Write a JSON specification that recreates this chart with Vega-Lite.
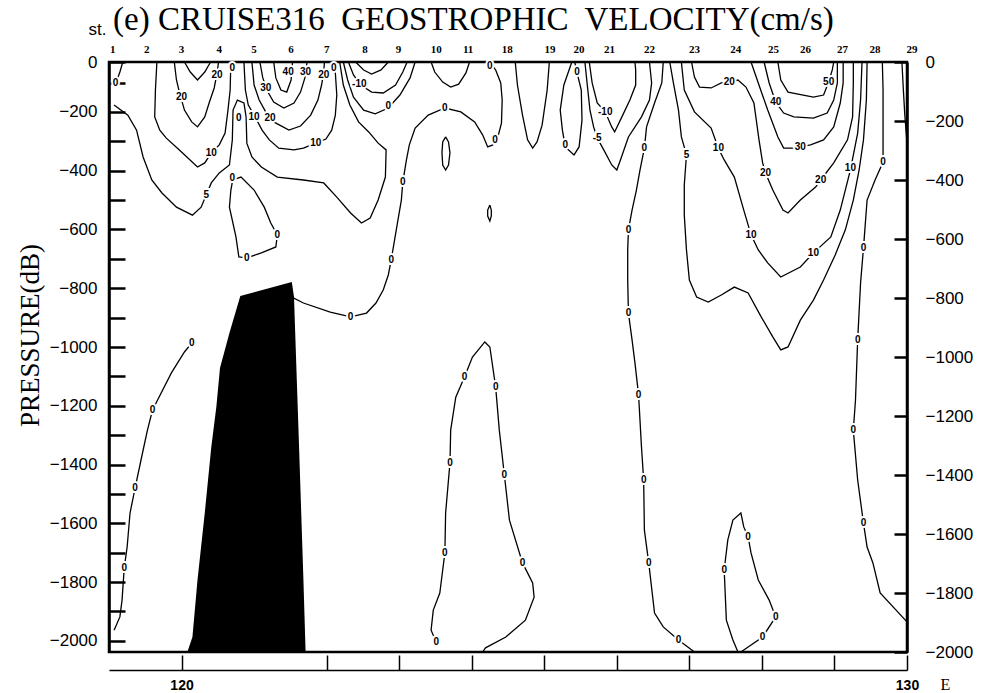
{
"$schema":"https://vega.github.io/schema/vega-lite/v6.json",
"width":798,"height":590,
"autosize":"none",
"padding":{"left":109,"top":62,"right":74,"bottom":41},
"background":"white",
"config":{"view":{"stroke":"black","strokeWidth":2.5},"axis":{"domainColor":"black","tickColor":"black","labelColor":"black","titleColor":"black","grid":false}},
"title":{"text":"(e) CRUISE316\u00a0 GEOSTROPHIC\u00a0 VELOCITY(cm/s)","anchor":"start","frame":"group","font":"Liberation Serif","fontSize":33,"fontWeight":"normal","color":"black","baseline":"alphabetic","offset":-42,"dx":4},
"datasets":{
"contours":[
{"c":"a","i":0,"lon":119.19,"p":0},{"c":"a","i":1,"lon":119.15,"p":-34},{"c":"a","i":2,"lon":119.11,"p":-61},{"c":"a","i":3,"lon":119.07,"p":-78},
{"c":"b","i":0,"lon":119.07,"p":-146},{"c":"b","i":1,"lon":119.26,"p":-180},{"c":"b","i":2,"lon":119.38,"p":-231},{"c":"b","i":3,"lon":119.47,"p":-322},{"c":"b","i":4,"lon":119.59,"p":-400},{"c":"b","i":5,"lon":119.73,"p":-444},{"c":"b","i":6,"lon":119.93,"p":-492},{"c":"b","i":7,"lon":120.15,"p":-519},{"c":"b","i":8,"lon":120.27,"p":-492},{"c":"b","i":9,"lon":120.34,"p":-451},{"c":"b","i":10,"lon":120.41,"p":-410},{"c":"b","i":11,"lon":120.52,"p":-376},{"c":"b","i":12,"lon":120.66,"p":-349},{"c":"b","i":13,"lon":120.70,"p":-264},{"c":"b","i":14,"lon":120.71,"p":-163},{"c":"b","i":15,"lon":120.77,"p":-129},{"c":"b","i":16,"lon":120.86,"p":-139},{"c":"b","i":17,"lon":120.89,"p":-186},{"c":"b","i":18,"lon":120.90,"p":-275},{"c":"b","i":19,"lon":120.97,"p":-322},{"c":"b","i":20,"lon":121.10,"p":-356},{"c":"b","i":21,"lon":121.32,"p":-390},{"c":"b","i":22,"lon":121.68,"p":-400},{"c":"b","i":23,"lon":121.96,"p":-410},{"c":"b","i":24,"lon":122.14,"p":-458},{"c":"b","i":25,"lon":122.33,"p":-512},{"c":"b","i":26,"lon":122.48,"p":-546},{"c":"b","i":27,"lon":122.60,"p":-529},{"c":"b","i":28,"lon":122.71,"p":-468},{"c":"b","i":29,"lon":122.81,"p":-390},{"c":"b","i":30,"lon":122.82,"p":-298},{"c":"b","i":31,"lon":122.71,"p":-275},{"c":"b","i":32,"lon":122.58,"p":-237},{"c":"b","i":33,"lon":122.44,"p":-203},{"c":"b","i":34,"lon":122.32,"p":-146},{"c":"b","i":35,"lon":122.23,"p":-78},{"c":"b","i":36,"lon":122.18,"p":0},
{"c":"d","i":0,"lon":119.66,"p":0},{"c":"d","i":1,"lon":119.64,"p":-95},{"c":"d","i":2,"lon":119.63,"p":-186},{"c":"d","i":3,"lon":119.70,"p":-231},{"c":"d","i":4,"lon":119.79,"p":-258},{"c":"d","i":5,"lon":119.97,"p":-298},{"c":"d","i":6,"lon":120.22,"p":-356},{"c":"d","i":7,"lon":120.32,"p":-342},{"c":"d","i":8,"lon":120.41,"p":-308},{"c":"d","i":9,"lon":120.52,"p":-281},{"c":"d","i":10,"lon":120.60,"p":-241},{"c":"d","i":11,"lon":120.64,"p":-163},{"c":"d","i":12,"lon":120.67,"p":-95},{"c":"d","i":13,"lon":120.68,"p":0},
{"c":"e","i":0,"lon":119.90,"p":0},{"c":"e","i":1,"lon":119.93,"p":-61},{"c":"e","i":2,"lon":119.97,"p":-102},{"c":"e","i":3,"lon":120.04,"p":-163},{"c":"e","i":4,"lon":120.14,"p":-203},{"c":"e","i":5,"lon":120.22,"p":-220},{"c":"e","i":6,"lon":120.32,"p":-186},{"c":"e","i":7,"lon":120.38,"p":-139},{"c":"e","i":8,"lon":120.45,"p":-88},{"c":"e","i":9,"lon":120.49,"p":-37},{"c":"e","i":10,"lon":120.51,"p":0},
{"c":"f","i":0,"lon":120.04,"p":0},{"c":"f","i":1,"lon":120.12,"p":-34},{"c":"f","i":2,"lon":120.22,"p":-61},{"c":"f","i":3,"lon":120.32,"p":-34},{"c":"f","i":4,"lon":120.40,"p":0},
{"c":"g","i":0,"lon":120.86,"p":0},{"c":"g","i":1,"lon":120.88,"p":-95},{"c":"g","i":2,"lon":120.92,"p":-146},{"c":"g","i":3,"lon":121.00,"p":-180},{"c":"g","i":4,"lon":121.11,"p":-231},{"c":"g","i":5,"lon":121.21,"p":-264},{"c":"g","i":6,"lon":121.34,"p":-292},{"c":"g","i":7,"lon":121.55,"p":-298},{"c":"g","i":8,"lon":121.68,"p":-292},{"c":"g","i":9,"lon":121.85,"p":-275},{"c":"g","i":10,"lon":121.99,"p":-261},{"c":"g","i":11,"lon":122.07,"p":-231},{"c":"g","i":12,"lon":122.12,"p":-180},{"c":"g","i":13,"lon":122.14,"p":-112},{"c":"g","i":14,"lon":122.11,"p":0},
{"c":"h","i":0,"lon":120.97,"p":0},{"c":"h","i":1,"lon":121.00,"p":-78},{"c":"h","i":2,"lon":121.07,"p":-129},{"c":"h","i":3,"lon":121.16,"p":-169},{"c":"h","i":4,"lon":121.27,"p":-203},{"c":"h","i":5,"lon":121.48,"p":-231},{"c":"h","i":6,"lon":121.64,"p":-217},{"c":"h","i":7,"lon":121.78,"p":-180},{"c":"h","i":8,"lon":121.88,"p":-129},{"c":"h","i":9,"lon":121.93,"p":-78},{"c":"h","i":10,"lon":121.96,"p":-34},{"c":"h","i":11,"lon":121.97,"p":0},
{"c":"j","i":0,"lon":121.08,"p":0},{"c":"j","i":1,"lon":121.12,"p":-54},{"c":"j","i":2,"lon":121.19,"p":-102},{"c":"j","i":3,"lon":121.27,"p":-136},{"c":"j","i":4,"lon":121.41,"p":-156},{"c":"j","i":5,"lon":121.55,"p":-139},{"c":"j","i":6,"lon":121.64,"p":-102},{"c":"j","i":7,"lon":121.70,"p":-54},{"c":"j","i":8,"lon":121.73,"p":0},
{"c":"k","i":0,"lon":121.27,"p":0},{"c":"k","i":1,"lon":121.30,"p":-54},{"c":"k","i":2,"lon":121.37,"p":-95},{"c":"k","i":3,"lon":121.45,"p":-102},{"c":"k","i":4,"lon":121.51,"p":-61},{"c":"k","i":5,"lon":121.53,"p":0},
{"c":"l","i":0,"lon":122.40,"p":0},{"c":"l","i":1,"lon":122.51,"p":-27},{"c":"l","i":2,"lon":122.62,"p":-41},{"c":"l","i":3,"lon":122.75,"p":-27},{"c":"l","i":4,"lon":122.85,"p":0},
{"c":"m","i":0,"lon":122.30,"p":0},{"c":"m","i":1,"lon":122.37,"p":-44},{"c":"m","i":2,"lon":122.47,"p":-78},{"c":"m","i":3,"lon":122.62,"p":-102},{"c":"m","i":4,"lon":122.78,"p":-105},{"c":"m","i":5,"lon":122.95,"p":-78},{"c":"m","i":6,"lon":123.05,"p":-34},{"c":"m","i":7,"lon":123.11,"p":0},
{"c":"n","i":0,"lon":122.23,"p":0},{"c":"n","i":1,"lon":122.29,"p":-61},{"c":"n","i":2,"lon":122.37,"p":-119},{"c":"n","i":3,"lon":122.51,"p":-163},{"c":"n","i":4,"lon":122.67,"p":-176},{"c":"n","i":5,"lon":122.85,"p":-156},{"c":"n","i":6,"lon":123.01,"p":-112},{"c":"n","i":7,"lon":123.15,"p":-54},{"c":"n","i":8,"lon":123.22,"p":0},
{"c":"o","i":0,"lon":121.52,"p":-797},{"c":"o","i":1,"lon":121.68,"p":-817},{"c":"o","i":2,"lon":122.05,"p":-848},{"c":"o","i":3,"lon":122.33,"p":-864},{"c":"o","i":4,"lon":122.55,"p":-851},{"c":"o","i":5,"lon":122.68,"p":-817},{"c":"o","i":6,"lon":122.78,"p":-773},{"c":"o","i":7,"lon":122.85,"p":-722},{"c":"o","i":8,"lon":122.89,"p":-671},{"c":"o","i":9,"lon":122.96,"p":-569},{"c":"o","i":10,"lon":123.03,"p":-468},{"c":"o","i":11,"lon":123.05,"p":-407},{"c":"o","i":12,"lon":123.10,"p":-332},{"c":"o","i":13,"lon":123.14,"p":-281},{"c":"o","i":14,"lon":123.22,"p":-224},{"c":"o","i":15,"lon":123.40,"p":-180},{"c":"o","i":16,"lon":123.63,"p":-156},{"c":"o","i":17,"lon":123.85,"p":-169},{"c":"o","i":18,"lon":124.04,"p":-203},{"c":"o","i":19,"lon":124.15,"p":-247},{"c":"o","i":20,"lon":124.22,"p":-288},{"c":"o","i":21,"lon":124.29,"p":-281},{"c":"o","i":22,"lon":124.36,"p":-254},{"c":"o","i":23,"lon":124.41,"p":-207},{"c":"o","i":24,"lon":124.42,"p":-129},{"c":"o","i":25,"lon":124.40,"p":-71},{"c":"o","i":26,"lon":124.33,"p":-27},{"c":"o","i":27,"lon":124.25,"p":0},
{"c":"q","i":0,"lon":123.44,"p":0},{"c":"q","i":1,"lon":123.49,"p":-34},{"c":"q","i":2,"lon":123.60,"p":-68},{"c":"q","i":3,"lon":123.71,"p":-85},{"c":"q","i":4,"lon":123.82,"p":-75},{"c":"q","i":5,"lon":123.92,"p":-37},{"c":"q","i":6,"lon":123.97,"p":0},
{"c":"r","i":0,"lon":123.64,"p":-254},{"c":"r","i":1,"lon":123.68,"p":-271},{"c":"r","i":2,"lon":123.70,"p":-308},{"c":"r","i":3,"lon":123.68,"p":-349},{"c":"r","i":4,"lon":123.64,"p":-366},{"c":"r","i":5,"lon":123.60,"p":-349},{"c":"r","i":6,"lon":123.59,"p":-308},{"c":"r","i":7,"lon":123.60,"p":-271},{"c":"r","i":8,"lon":123.64,"p":-254},
{"c":"s","i":0,"lon":124.25,"p":-485},{"c":"s","i":1,"lon":124.27,"p":-502},{"c":"s","i":2,"lon":124.27,"p":-522},{"c":"s","i":3,"lon":124.25,"p":-539},{"c":"s","i":4,"lon":124.22,"p":-522},{"c":"s","i":5,"lon":124.22,"p":-502},{"c":"s","i":6,"lon":124.25,"p":-485},
{"c":"t","i":0,"lon":124.60,"p":0},{"c":"t","i":1,"lon":124.63,"p":-78},{"c":"t","i":2,"lon":124.70,"p":-180},{"c":"t","i":3,"lon":124.77,"p":-264},{"c":"t","i":4,"lon":124.84,"p":-292},{"c":"t","i":5,"lon":124.90,"p":-271},{"c":"t","i":6,"lon":124.97,"p":-214},{"c":"t","i":7,"lon":125.04,"p":-95},{"c":"t","i":8,"lon":125.07,"p":0},
{"c":"u","i":0,"lon":125.38,"p":0},{"c":"u","i":1,"lon":125.27,"p":-78},{"c":"u","i":2,"lon":125.22,"p":-163},{"c":"u","i":3,"lon":125.25,"p":-231},{"c":"u","i":4,"lon":125.29,"p":-288},{"c":"u","i":5,"lon":125.41,"p":-315},{"c":"u","i":6,"lon":125.48,"p":-288},{"c":"u","i":7,"lon":125.52,"p":-197},{"c":"u","i":8,"lon":125.51,"p":-95},{"c":"u","i":9,"lon":125.45,"p":-34},{"c":"u","i":10,"lon":125.42,"p":0},
{"c":"v","i":0,"lon":125.62,"p":0},{"c":"v","i":1,"lon":125.66,"p":-71},{"c":"v","i":2,"lon":125.73,"p":-139},{"c":"v","i":3,"lon":125.84,"p":-169},{"c":"v","i":4,"lon":125.93,"p":-220},{"c":"v","i":5,"lon":125.97,"p":-237},{"c":"v","i":6,"lon":126.07,"p":-186},{"c":"v","i":7,"lon":126.18,"p":-129},{"c":"v","i":8,"lon":126.26,"p":-78},{"c":"v","i":9,"lon":126.26,"p":-27},{"c":"v","i":10,"lon":126.25,"p":0},
{"c":"w","i":0,"lon":125.56,"p":0},{"c":"w","i":1,"lon":125.59,"p":-71},{"c":"w","i":2,"lon":125.63,"p":-163},{"c":"w","i":3,"lon":125.68,"p":-220},{"c":"w","i":4,"lon":125.73,"p":-258},{"c":"w","i":5,"lon":125.82,"p":-298},{"c":"w","i":6,"lon":125.93,"p":-349},{"c":"w","i":7,"lon":126.00,"p":-366},{"c":"w","i":8,"lon":126.05,"p":-332},{"c":"w","i":9,"lon":126.16,"p":-254},{"c":"w","i":10,"lon":126.34,"p":-186},{"c":"w","i":11,"lon":126.45,"p":-129},{"c":"w","i":12,"lon":126.48,"p":-71},{"c":"w","i":13,"lon":126.45,"p":0},
{"c":"x","i":0,"lon":126.64,"p":0},{"c":"x","i":1,"lon":126.62,"p":-71},{"c":"x","i":2,"lon":126.52,"p":-139},{"c":"x","i":3,"lon":126.41,"p":-220},{"c":"x","i":4,"lon":126.38,"p":-292},{"c":"x","i":5,"lon":126.32,"p":-366},{"c":"x","i":6,"lon":126.27,"p":-434},{"c":"x","i":7,"lon":126.21,"p":-502},{"c":"x","i":8,"lon":126.16,"p":-569},{"c":"x","i":9,"lon":126.15,"p":-637},{"c":"x","i":10,"lon":126.15,"p":-739},{"c":"x","i":11,"lon":126.16,"p":-851},{"c":"x","i":12,"lon":126.21,"p":-942},{"c":"x","i":13,"lon":126.25,"p":-1020},{"c":"x","i":14,"lon":126.30,"p":-1129},{"c":"x","i":15,"lon":126.34,"p":-1305},{"c":"x","i":16,"lon":126.37,"p":-1417},{"c":"x","i":17,"lon":126.38,"p":-1587},{"c":"x","i":18,"lon":126.44,"p":-1698},{"c":"x","i":19,"lon":126.52,"p":-1868},{"c":"x","i":20,"lon":126.64,"p":-1915},{"c":"x","i":21,"lon":126.85,"p":-1959},{"c":"x","i":22,"lon":127.07,"p":-2000},
{"c":"y","i":0,"lon":126.73,"p":0},{"c":"y","i":1,"lon":126.78,"p":-71},{"c":"y","i":2,"lon":126.85,"p":-163},{"c":"y","i":3,"lon":126.89,"p":-254},{"c":"y","i":4,"lon":126.96,"p":-315},{"c":"y","i":5,"lon":126.93,"p":-417},{"c":"y","i":6,"lon":126.93,"p":-519},{"c":"y","i":7,"lon":126.96,"p":-637},{"c":"y","i":8,"lon":127.00,"p":-739},{"c":"y","i":9,"lon":127.10,"p":-797},{"c":"y","i":10,"lon":127.26,"p":-814},{"c":"y","i":11,"lon":127.44,"p":-790},{"c":"y","i":12,"lon":127.62,"p":-763},{"c":"y","i":13,"lon":127.81,"p":-783},{"c":"y","i":14,"lon":127.99,"p":-864},{"c":"y","i":15,"lon":128.15,"p":-932},{"c":"y","i":16,"lon":128.26,"p":-976},{"c":"y","i":17,"lon":128.36,"p":-966},{"c":"y","i":18,"lon":128.53,"p":-875},{"c":"y","i":19,"lon":128.71,"p":-807},{"c":"y","i":20,"lon":128.85,"p":-739},{"c":"y","i":21,"lon":129.01,"p":-654},{"c":"y","i":22,"lon":129.15,"p":-569},{"c":"y","i":23,"lon":129.26,"p":-468},{"c":"y","i":24,"lon":129.34,"p":-366},{"c":"y","i":25,"lon":129.40,"p":-264},{"c":"y","i":26,"lon":129.44,"p":-129},{"c":"y","i":27,"lon":129.45,"p":0},
{"c":"z","i":0,"lon":126.89,"p":0},{"c":"z","i":1,"lon":126.93,"p":-95},{"c":"z","i":2,"lon":127.07,"p":-169},{"c":"z","i":3,"lon":127.30,"p":-224},{"c":"z","i":4,"lon":127.40,"p":-292},{"c":"z","i":5,"lon":127.48,"p":-332},{"c":"z","i":6,"lon":127.62,"p":-390},{"c":"z","i":7,"lon":127.75,"p":-502},{"c":"z","i":8,"lon":127.85,"p":-586},{"c":"z","i":9,"lon":127.95,"p":-637},{"c":"z","i":10,"lon":128.08,"p":-681},{"c":"z","i":11,"lon":128.26,"p":-729},{"c":"z","i":12,"lon":128.53,"p":-695},{"c":"z","i":13,"lon":128.71,"p":-647},{"c":"z","i":14,"lon":128.95,"p":-593},{"c":"z","i":15,"lon":129.08,"p":-502},{"c":"z","i":16,"lon":129.22,"p":-366},{"c":"z","i":17,"lon":129.32,"p":-241},{"c":"z","i":18,"lon":129.36,"p":-129},{"c":"z","i":19,"lon":129.38,"p":0},
{"c":"A","i":0,"lon":127.03,"p":0},{"c":"A","i":1,"lon":127.07,"p":-51},{"c":"A","i":2,"lon":127.14,"p":-85},{"c":"A","i":3,"lon":127.30,"p":-88},{"c":"A","i":4,"lon":127.44,"p":-71},{"c":"A","i":5,"lon":127.55,"p":-68},{"c":"A","i":6,"lon":127.67,"p":-61},{"c":"A","i":7,"lon":127.78,"p":-85},{"c":"A","i":8,"lon":127.89,"p":-139},{"c":"A","i":9,"lon":127.96,"p":-264},{"c":"A","i":10,"lon":128.01,"p":-342},{"c":"A","i":11,"lon":128.05,"p":-376},{"c":"A","i":12,"lon":128.15,"p":-434},{"c":"A","i":13,"lon":128.29,"p":-502},{"c":"A","i":14,"lon":128.36,"p":-512},{"c":"A","i":15,"lon":128.53,"p":-468},{"c":"A","i":16,"lon":128.74,"p":-424},{"c":"A","i":17,"lon":128.81,"p":-400},{"c":"A","i":18,"lon":128.99,"p":-342},{"c":"A","i":19,"lon":129.18,"p":-264},{"c":"A","i":20,"lon":129.25,"p":-186},{"c":"A","i":21,"lon":129.26,"p":-71},{"c":"A","i":22,"lon":129.26,"p":0},
{"c":"B","i":0,"lon":127.85,"p":0},{"c":"B","i":1,"lon":127.95,"p":-71},{"c":"B","i":2,"lon":128.08,"p":-163},{"c":"B","i":3,"lon":128.22,"p":-254},{"c":"B","i":4,"lon":128.30,"p":-292},{"c":"B","i":5,"lon":128.44,"p":-292},{"c":"B","i":6,"lon":128.67,"p":-281},{"c":"B","i":7,"lon":128.85,"p":-264},{"c":"B","i":8,"lon":128.99,"p":-220},{"c":"B","i":9,"lon":129.08,"p":-139},{"c":"B","i":10,"lon":129.12,"p":-71},{"c":"B","i":11,"lon":129.12,"p":0},
{"c":"C","i":0,"lon":128.03,"p":0},{"c":"C","i":1,"lon":128.10,"p":-71},{"c":"C","i":2,"lon":128.19,"p":-136},{"c":"C","i":3,"lon":128.30,"p":-173},{"c":"C","i":4,"lon":128.44,"p":-186},{"c":"C","i":5,"lon":128.71,"p":-190},{"c":"C","i":6,"lon":128.90,"p":-173},{"c":"C","i":7,"lon":128.99,"p":-129},{"c":"C","i":8,"lon":129.04,"p":-71},{"c":"C","i":9,"lon":129.04,"p":0},
{"c":"D","i":0,"lon":128.22,"p":0},{"c":"D","i":1,"lon":128.26,"p":-61},{"c":"D","i":2,"lon":128.36,"p":-102},{"c":"D","i":3,"lon":128.71,"p":-119},{"c":"D","i":4,"lon":128.85,"p":-112},{"c":"D","i":5,"lon":128.92,"p":-68},{"c":"D","i":6,"lon":128.97,"p":-27},{"c":"D","i":7,"lon":128.99,"p":0},
{"c":"E","i":0,"lon":129.66,"p":0},{"c":"E","i":1,"lon":129.67,"p":-95},{"c":"E","i":2,"lon":129.67,"p":-197},{"c":"E","i":3,"lon":129.67,"p":-298},{"c":"E","i":4,"lon":129.67,"p":-339},{"c":"E","i":5,"lon":129.56,"p":-400},{"c":"E","i":6,"lon":129.45,"p":-468},{"c":"E","i":7,"lon":129.40,"p":-631},{"c":"E","i":8,"lon":129.36,"p":-749},{"c":"E","i":9,"lon":129.32,"p":-942},{"c":"E","i":10,"lon":129.29,"p":-1146},{"c":"E","i":11,"lon":129.26,"p":-1248},{"c":"E","i":12,"lon":129.32,"p":-1417},{"c":"E","i":13,"lon":129.40,"p":-1563},{"c":"E","i":14,"lon":129.45,"p":-1644},{"c":"E","i":15,"lon":129.53,"p":-1698},{"c":"E","i":16,"lon":129.63,"p":-1800},{"c":"E","i":17,"lon":130.00,"p":-1898},
{"c":"F","i":0,"lon":129.93,"p":0},{"c":"F","i":1,"lon":129.95,"p":-95},{"c":"F","i":2,"lon":129.97,"p":-180},{"c":"F","i":3,"lon":130.00,"p":-275},
{"c":"G","i":0,"lon":120.14,"p":-953},{"c":"G","i":1,"lon":120.04,"p":-983},{"c":"G","i":2,"lon":119.86,"p":-1054},{"c":"G","i":3,"lon":119.67,"p":-1146},{"c":"G","i":4,"lon":119.60,"p":-1180},{"c":"G","i":5,"lon":119.53,"p":-1248},{"c":"G","i":6,"lon":119.45,"p":-1339},{"c":"G","i":7,"lon":119.36,"p":-1444},{"c":"G","i":8,"lon":119.29,"p":-1529},{"c":"G","i":9,"lon":119.25,"p":-1644},{"c":"G","i":10,"lon":119.21,"p":-1715},{"c":"G","i":11,"lon":119.18,"p":-1824},{"c":"G","i":12,"lon":119.15,"p":-1881},{"c":"G","i":13,"lon":119.07,"p":-1926},
{"c":"H","i":0,"lon":120.70,"p":-400},{"c":"H","i":1,"lon":120.82,"p":-390},{"c":"H","i":2,"lon":121.00,"p":-434},{"c":"H","i":3,"lon":121.14,"p":-492},{"c":"H","i":4,"lon":121.23,"p":-546},{"c":"H","i":5,"lon":121.32,"p":-586},{"c":"H","i":6,"lon":121.30,"p":-627},{"c":"H","i":7,"lon":121.10,"p":-647},{"c":"H","i":8,"lon":120.90,"p":-664},{"c":"H","i":9,"lon":120.79,"p":-661},{"c":"H","i":10,"lon":120.75,"p":-593},{"c":"H","i":11,"lon":120.66,"p":-492},{"c":"H","i":12,"lon":120.68,"p":-434},{"c":"H","i":13,"lon":120.70,"p":-407},
{"c":"I","i":0,"lon":123.51,"p":-1966},{"c":"I","i":1,"lon":123.44,"p":-1926},{"c":"I","i":2,"lon":123.47,"p":-1858},{"c":"I","i":3,"lon":123.56,"p":-1800},{"c":"I","i":4,"lon":123.60,"p":-1722},{"c":"I","i":5,"lon":123.63,"p":-1664},{"c":"I","i":6,"lon":123.64,"p":-1529},{"c":"I","i":7,"lon":123.70,"p":-1359},{"c":"I","i":8,"lon":123.71,"p":-1248},{"c":"I","i":9,"lon":123.78,"p":-1136},{"c":"I","i":10,"lon":123.90,"p":-1068},{"c":"I","i":11,"lon":124.01,"p":-1000},{"c":"I","i":12,"lon":124.18,"p":-949},{"c":"I","i":13,"lon":124.25,"p":-966},{"c":"I","i":14,"lon":124.33,"p":-1102},{"c":"I","i":15,"lon":124.38,"p":-1248},{"c":"I","i":16,"lon":124.45,"p":-1400},{"c":"I","i":17,"lon":124.52,"p":-1553},{"c":"I","i":18,"lon":124.70,"p":-1698},{"c":"I","i":19,"lon":124.84,"p":-1766},{"c":"I","i":20,"lon":124.86,"p":-1814},{"c":"I","i":21,"lon":124.74,"p":-1892},{"c":"I","i":22,"lon":124.47,"p":-1949},{"c":"I","i":23,"lon":124.19,"p":-1986},{"c":"I","i":24,"lon":124.15,"p":-2000},
{"c":"J","i":0,"lon":127.67,"p":-2000},{"c":"J","i":1,"lon":127.60,"p":-1959},{"c":"J","i":2,"lon":127.51,"p":-1892},{"c":"J","i":3,"lon":127.48,"p":-1722},{"c":"J","i":4,"lon":127.53,"p":-1620},{"c":"J","i":5,"lon":127.60,"p":-1553},{"c":"J","i":6,"lon":127.71,"p":-1529},{"c":"J","i":7,"lon":127.75,"p":-1576},{"c":"J","i":8,"lon":127.81,"p":-1610},{"c":"J","i":9,"lon":127.85,"p":-1664},{"c":"J","i":10,"lon":127.95,"p":-1756},{"c":"J","i":11,"lon":128.10,"p":-1824},{"c":"J","i":12,"lon":128.19,"p":-1881},{"c":"J","i":13,"lon":128.01,"p":-1949},{"c":"J","i":14,"lon":127.75,"p":-1993},{"c":"J","i":15,"lon":127.71,"p":-2000}
],
"labels":[
{"t":"0","lon":119.09,"p":-72},
{"t":"5","lon":120.34,"p":-451},{"t":"10","lon":120.41,"p":-308},{"t":"20","lon":120.00,"p":-119},{"t":"20","lon":120.49,"p":-44},{"t":"0","lon":120.70,"p":-20},{"t":"0","lon":120.79,"p":-190},
{"t":"10","lon":121.00,"p":-186},{"t":"10","lon":121.85,"p":-275},{"t":"20","lon":121.22,"p":-190},{"t":"20","lon":121.96,"p":-44},{"t":"30","lon":121.16,"p":-88},{"t":"30","lon":121.71,"p":-34},{"t":"40","lon":121.47,"p":-34},{"t":"0","lon":122.10,"p":-20},
{"t":"-10","lon":122.45,"p":-75},{"t":"0","lon":122.85,"p":-150},
{"t":"0","lon":122.33,"p":-864},{"t":"0","lon":122.89,"p":-671},{"t":"0","lon":123.05,"p":-407},{"t":"0","lon":123.63,"p":-156},{"t":"0","lon":124.32,"p":-264},{"t":"0","lon":124.25,"p":-14},
{"t":"0","lon":125.45,"p":-34},{"t":"0","lon":125.29,"p":-281},{"t":"-10","lon":125.84,"p":-169},{"t":"-5","lon":125.73,"p":-258},
{"t":"0","lon":126.38,"p":-292},{"t":"0","lon":126.16,"p":-569},{"t":"0","lon":126.16,"p":-851},{"t":"0","lon":126.30,"p":-1129},{"t":"0","lon":126.37,"p":-1417},{"t":"0","lon":126.44,"p":-1698},{"t":"0","lon":126.85,"p":-1959},
{"t":"5","lon":126.96,"p":-315},
{"t":"10","lon":127.40,"p":-292},{"t":"10","lon":127.85,"p":-586},{"t":"10","lon":128.71,"p":-647},{"t":"10","lon":129.22,"p":-359},
{"t":"20","lon":127.55,"p":-68},{"t":"20","lon":128.05,"p":-376},{"t":"20","lon":128.81,"p":-400},
{"t":"30","lon":128.53,"p":-288},{"t":"40","lon":128.19,"p":-136},{"t":"50","lon":128.92,"p":-68},
{"t":"0","lon":129.67,"p":-339},{"t":"0","lon":129.40,"p":-631},{"t":"0","lon":129.32,"p":-942},{"t":"0","lon":129.26,"p":-1248},{"t":"0","lon":129.40,"p":-1563},
{"t":"0","lon":120.14,"p":-953},{"t":"0","lon":119.60,"p":-1180},{"t":"0","lon":119.36,"p":-1444},{"t":"0","lon":119.21,"p":-1715},
{"t":"0","lon":120.70,"p":-393},{"t":"0","lon":121.32,"p":-586},{"t":"0","lon":120.90,"p":-664},
{"t":"0","lon":123.51,"p":-1966},{"t":"0","lon":123.63,"p":-1664},{"t":"0","lon":123.70,"p":-1359},{"t":"0","lon":123.90,"p":-1068},{"t":"0","lon":124.33,"p":-1102},{"t":"0","lon":124.45,"p":-1400},{"t":"0","lon":124.70,"p":-1698},
{"t":"0","lon":127.48,"p":-1722},{"t":"0","lon":127.81,"p":-1610},{"t":"0","lon":128.19,"p":-1881},{"t":"0","lon":128.01,"p":-1949}
],
"topo":[
{"lon":120.08,"p":-2000},{"lon":120.15,"p":-1949},{"lon":120.22,"p":-1756},{"lon":120.32,"p":-1529},{"lon":120.41,"p":-1305},{"lon":120.48,"p":-1169},{"lon":120.53,"p":-1037},{"lon":120.66,"p":-919},{"lon":120.81,"p":-793},{"lon":121.52,"p":-746},{"lon":121.55,"p":-797},{"lon":121.62,"p":-1305},{"lon":121.68,"p":-1756},{"lon":121.71,"p":-2000}
],
"stations":[
{"st":"1","lon":119.05},{"st":"2","lon":119.52},{"st":"3","lon":120.00},{"st":"4","lon":120.52},{"st":"5","lon":121.00},{"st":"6","lon":121.51},{"st":"7","lon":122.00},{"st":"8","lon":122.53},{"st":"9","lon":122.99},{"st":"10","lon":123.51},{"st":"11","lon":123.95},{"st":"18","lon":124.49},{"st":"19","lon":125.08},{"st":"20","lon":125.48},{"st":"21","lon":125.90},{"st":"22","lon":126.45},{"st":"23","lon":127.07},{"st":"24","lon":127.64},{"st":"25","lon":128.16},{"st":"26","lon":128.60},{"st":"27","lon":129.11},{"st":"28","lon":129.56},{"st":"29","lon":130.07}
]
},
"layer":[
{"data":{"name":"contours"},
 "mark":{"type":"point","opacity":0},
 "encoding":{"y":{"field":"p","type":"quantitative","scale":{"domain":[-2038,-30],"clamp":true},
   "axis":{"orient":"left","values":[0,-100,-200,-300,-400,-500,-600,-700,-800,-900,-1000,-1100,-1200,-1300,-1400,-1500,-1600,-1700,-1800,-1900,-2000],
     "labelExpr":"datum.value % 200 == 0 ? datum.label : ''","format":"d","tickSize":-16,"tickWidth":2.5,"domainWidth":2.5,
     "labelPadding":28,"labelFont":"Liberation Sans","labelFontSize":17,"labelFlush":false,"labelOverlap":false,"labelBound":false,
     "title":"PRESSURE(dB)","titleFont":"Liberation Serif","titleFontSize":27,"titleFontWeight":"normal","titleX":-79,"titleY":273,"titleAlign":"center","titleBaseline":"middle","titleAngle":270}}}},
{"layer":[
 {"data":{"name":"topo"},
  "mark":{"type":"area","color":"black","interpolate":"linear"},
  "encoding":{"x":{"field":"lon","type":"quantitative","scale":{"domain":[119.07,130]},
     "axis":{"orient":"bottom","offset":18,"values":[120,122,123,124,125,126,127,128,129,130],"labelExpr":"datum.value == 120 || datum.value == 130 ? datum.label : ''","format":"d",
       "tickSize":-15,"tickWidth":1.5,"domainWidth":1.5,"labelPadding":23,"labelFont":"Liberation Sans","labelFontSize":14,"labelFontWeight":"bold","labelFlush":false,"labelOverlap":false,"labelBound":false,
       "title":"E","titleFont":"Liberation Serif","titleFontSize":16,"titleFontWeight":"normal","titleX":836,"titleY":14,"titleAlign":"center","titleBaseline":"middle"}},
   "y":{"field":"p","type":"quantitative","scale":{"domain":[-2000,0]},
     "axis":{"orient":"right","values":[0,-100,-200,-300,-400,-500,-600,-700,-800,-900,-1000,-1100,-1200,-1300,-1400,-1500,-1600,-1700,-1800,-1900,-2000],
       "labelExpr":"datum.value % 200 == 0 ? datum.label : ''","format":"d","tickSize":-13,"tickWidth":2.5,"domainWidth":2.5,
       "labelPadding":31,"labelFont":"Liberation Sans","labelFontSize":17,"labelFlush":false,"labelOverlap":false,"labelBound":false,"title":null}},
   "y2":{"datum":-2000}}},
 {"data":{"name":"contours"},
  "mark":{"type":"line","color":"black","strokeWidth":1.3},
  "encoding":{"x":{"field":"lon","type":"quantitative"},"y":{"field":"p","type":"quantitative"},"detail":{"field":"c"},"order":{"field":"i","type":"quantitative"}}},
 {"data":{"name":"labels"},
  "mark":{"type":"text","color":"white","stroke":"white","strokeWidth":4,"font":"Liberation Sans","fontSize":10,"fontWeight":"bold","baseline":"middle","align":"center"},
  "encoding":{"x":{"field":"lon","type":"quantitative"},"y":{"field":"p","type":"quantitative"},"text":{"field":"t"}}},
 {"data":{"name":"labels"},
  "mark":{"type":"text","color":"black","font":"Liberation Sans","fontSize":10,"fontWeight":"bold","baseline":"middle","align":"center"},
  "encoding":{"x":{"field":"lon","type":"quantitative"},"y":{"field":"p","type":"quantitative"},"text":{"field":"t"}}},
 {"data":{"name":"stations"},
  "mark":{"type":"text","color":"black","font":"Liberation Sans Narrow","fontSize":11,"fontWeight":"bold","baseline":"middle","align":"center","dy":-12},
  "encoding":{"x":{"field":"lon","type":"quantitative"},"y":{"datum":0},"text":{"field":"st"}}},
 {"data":{"values":[{"s":"st."}]},
  "mark":{"type":"text","color":"black","font":"Liberation Sans","fontSize":17,"baseline":"middle","align":"center","dy":-32},
  "encoding":{"x":{"datum":118.84},"y":{"datum":0},"text":{"field":"s"}}}
]}
],
"resolve":{"scale":{"y":"independent"},"axis":{"y":"independent"}}
}
